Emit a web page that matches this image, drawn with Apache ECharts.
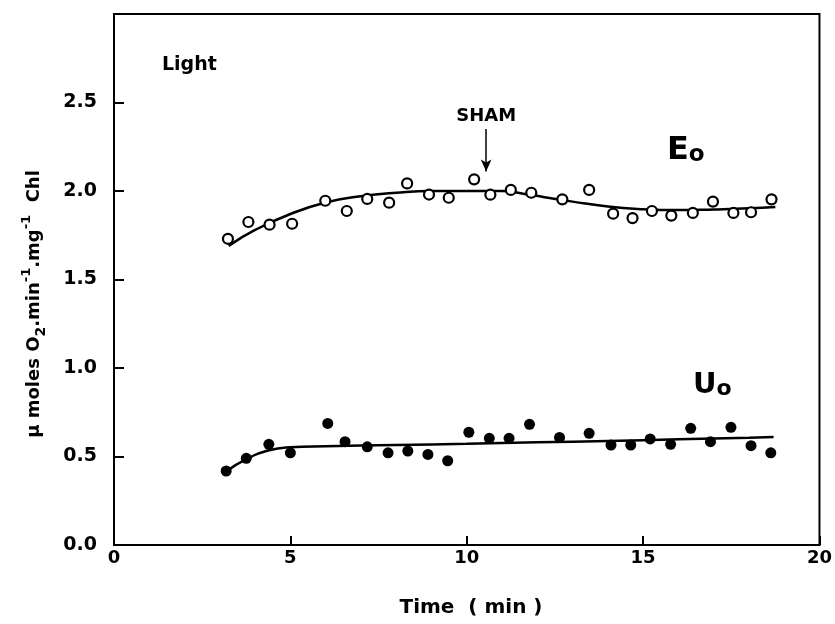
<!DOCTYPE html>
<html>
<head>
<meta charset="utf-8">
<script src="https://cdn.jsdelivr.net/npm/echarts@6/dist/echarts.min.js"></script>
<style>
  html, body { margin: 0; padding: 0; background: #fff; }
  #chart { width: 835px; height: 624px; }
</style>
</head>
<body>
<div id="chart"></div>
<script>
// measured points (time in min, rate)
var eoPoints = [
  [3.23, 1.73], [3.81, 1.825], [4.41, 1.81], [5.05, 1.815], [5.99, 1.945],
  [6.60, 1.887], [7.18, 1.955], [7.80, 1.934], [8.31, 2.043], [8.93, 1.98],
  [9.49, 1.962], [10.21, 2.066], [10.67, 1.979], [11.25, 2.006], [11.83, 1.99],
  [12.71, 1.953], [13.47, 2.006], [14.15, 1.872], [14.70, 1.847], [15.25, 1.887],
  [15.80, 1.861], [16.41, 1.876], [16.98, 1.94], [17.56, 1.876], [18.06, 1.88],
  [18.64, 1.953]
];
var uoPoints = [
  [3.18, 0.418], [3.75, 0.49], [4.39, 0.569], [5.0, 0.521], [6.06, 0.687],
  [6.55, 0.584], [7.18, 0.555], [7.77, 0.521], [8.33, 0.531], [8.90, 0.512],
  [9.46, 0.476], [10.06, 0.637], [10.64, 0.603], [11.2, 0.603], [11.78, 0.682],
  [12.63, 0.608], [13.47, 0.631], [14.09, 0.565], [14.65, 0.565], [15.2, 0.599],
  [15.78, 0.569], [16.35, 0.659], [16.91, 0.584], [17.49, 0.665], [18.06, 0.561],
  [18.62, 0.521]
];
// fitted curves
var eoCurve = [
  [3.25, 1.69], [4, 1.78], [5, 1.87], [6, 1.935], [7, 1.97], [8, 1.99], [9, 2.0],
  [10, 2.0], [11, 2.0], [11.6, 1.985], [12.2, 1.965], [13, 1.94], [14, 1.912],
  [15, 1.897], [16, 1.892], [17, 1.896], [18, 1.902], [18.75, 1.91]
];
var uoCurve = [
  [3.18, 0.415], [3.75, 0.485], [4.4, 0.535], [5, 0.552], [6, 0.558], [8, 0.565],
  [10, 0.572], [12, 0.58], [14, 0.588], [16, 0.597], [18, 0.606], [18.7, 0.61]
];
var xTicks = [0, 5, 10, 15, 20];
var yTicks = [0, 0.5, 1.0, 1.5, 2.0, 2.5];
var shamArrow = [[10.55, 2.35], [10.55, 2.11]];

var font = '"DejaVu Sans", "Liberation Sans", sans-serif';
var chart = echarts.init(document.getElementById('chart'));

var option = {
  backgroundColor: '#fff',
  animation: false,
  grid: {
    left: 114, right: 13, top: 14, bottom: 79,
    show: true, borderColor: '#000', borderWidth: 2
  },
  xAxis: {
    type: 'value', min: 0, max: 20, interval: 5,
    axisLine: { lineStyle: { color: '#000', width: 2 } },
    axisTick: { inside: true, length: 9, lineStyle: { color: '#000', width: 2 } },
    axisLabel: {
      color: '#000', fontFamily: font, fontWeight: 'bold', fontSize: 18, margin: 4,
      formatter: function (v) { return xTicks.indexOf(v) >= 0 ? String(v) : ''; }
    },
    splitLine: { show: false }
  },
  yAxis: {
    type: 'value', min: 0, max: 3, interval: 0.5,
    axisLine: { lineStyle: { color: '#000', width: 2 } },
    axisTick: { inside: true, length: 10, lineStyle: { color: '#000', width: 2 } },
    axisLabel: {
      color: '#000', fontFamily: font, fontWeight: 'bold', fontSize: 19, margin: 17,
      formatter: function (v) { return yTicks.indexOf(v) >= 0 ? v.toFixed(1) : ''; }
    },
    splitLine: { show: false }
  },
  series: [
    {
      name: 'Eo fit', type: 'line', data: eoCurve, smooth: 0.5, symbol: 'none',
      lineStyle: { color: '#000', width: 2.5 },
      markLine: {
        silent: true, symbol: ['none', 'arrow'], symbolSize: [8, 12],
        lineStyle: { color: '#000', width: 1.5, type: 'solid' },
        label: {
          show: true, position: 'start', formatter: 'SHAM', color: '#000',
          fontFamily: font, fontWeight: 'bold', fontSize: 18, distance: 4
        },
        data: [[{ coord: shamArrow[0] }, { coord: shamArrow[1] }]]
      }
    },
    {
      name: 'Uo fit', type: 'line', data: uoCurve, smooth: 0.5, symbol: 'none',
      lineStyle: { color: '#000', width: 2.5 }
    },
    {
      name: 'Eo', type: 'scatter', data: eoPoints, symbol: 'circle', symbolSize: 10,
      itemStyle: { color: '#fff', borderColor: '#000', borderWidth: 2.2, opacity: 1 }, z: 5
    },
    {
      name: 'Uo', type: 'scatter', data: uoPoints, symbol: 'circle', symbolSize: 11,
      itemStyle: { color: '#000', opacity: 1 }, z: 5
    }
  ],
  graphic: [
    {
      type: 'text', left: 162, top: 56,
      style: { text: 'Light', fill: '#000', font: 'bold 19px ' + font }
    },
    {
      type: 'text', left: 667, top: 135,
      style: {
        text: '{a|E}{b|o}', fill: '#000',
        rich: {
          a: { fontFamily: font, fontWeight: 'bold', fontSize: 32, verticalAlign: 'bottom' },
          b: { fontFamily: font, fontWeight: 'bold', fontSize: 23, verticalAlign: 'bottom' }
        }
      }
    },
    {
      type: 'text', left: 693, top: 371,
      style: {
        text: '{a|U}{b|o}', fill: '#000',
        rich: {
          a: { fontFamily: font, fontWeight: 'bold', fontSize: 29, verticalAlign: 'bottom' },
          b: { fontFamily: font, fontWeight: 'bold', fontSize: 22, verticalAlign: 'bottom' }
        }
      }
    },
    {
      type: 'text', x: 471, y: 608,
      style: {
        text: 'Time  ( min )', fill: '#000', font: 'bold 20px ' + font,
        align: 'center', verticalAlign: 'middle'
      }
    },
    {
      type: 'text', x: 34, y: 304, rotation: Math.PI / 2,
      style: {
        text: '{m|\u03bc moles O}{s|2}{m|.min}{p|-1}{m|.mg}{p|-1}{m|  Chl}',
        fill: '#000', align: 'center', verticalAlign: 'middle',
        rich: {
          m: { fontFamily: font, fontWeight: 'bold', fontSize: 18, lineHeight: 28, verticalAlign: 'middle' },
          s: { fontFamily: font, fontWeight: 'bold', fontSize: 14, lineHeight: 28, verticalAlign: 'bottom' },
          p: { fontFamily: font, fontWeight: 'bold', fontSize: 13, lineHeight: 28, verticalAlign: 'top' }
        }
      }
    }
  ]
};
chart.setOption(option);
</script>
</body>
</html>
